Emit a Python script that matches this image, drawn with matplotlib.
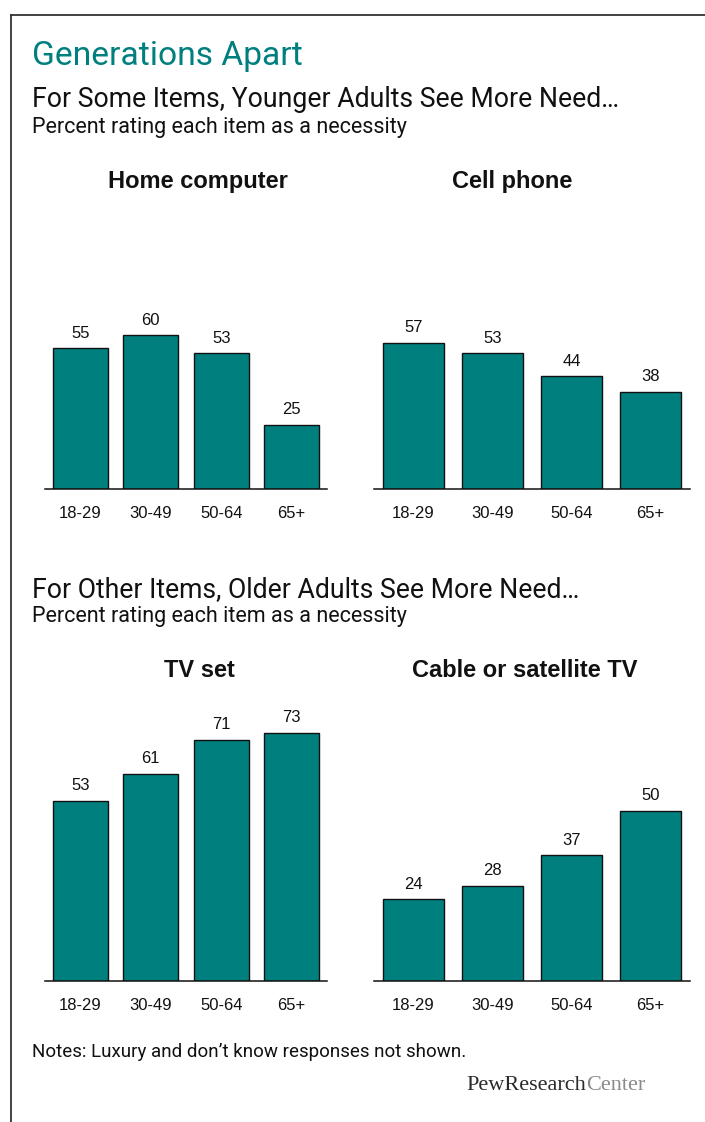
import matplotlib
matplotlib.use("Agg")
import matplotlib.pyplot as plt
from matplotlib.lines import Line2D

# ---- data -------------------------------------------------------------
age_groups = ["18-29", "30-49", "50-64", "65+"]

home_computer = [55, 60, 53, 25]
cell_phone = [57, 53, 44, 38]
tv_set = [53, 61, 71, 73]
cable_satellite = [24, 28, 37, 50]

panel_titles = ["Home computer", "Cell phone", "TV set", "Cable or satellite TV"]

title = "Generations Apart"
section1 = "For Some Items, Younger Adults See More Need\u2026"
section2 = "For Other Items, Older Adults See More Need\u2026"
subhead = "Percent rating each item as a necessity"
note = "Notes: Luxury and don\u2019t know responses not shown."

# ---- styling ----------------------------------------------------------
W, H = 705, 1122
TEAL = "#007F7F"
TEXT_FONT = ["Roboto", "DejaVu Sans"]
NUM_FONT = ["Liberation Sans", "DejaVu Sans"]

fig = plt.figure(figsize=(W / 100, H / 100), dpi=100)
fig.patch.set_facecolor("white")


def fx(x):
    return x / W


def fy(y):
    return 1 - y / H


def add_panel(left, right, top, bottom, values, heading, heading_x, heading_y):
    ax = fig.add_axes([fx(left), fy(bottom), fx(right) - fx(left), fy(top) - fy(bottom)])
    x = list(range(len(age_groups)))
    bars = ax.bar(x, values, width=0.78, color=TEAL, edgecolor="#111111", linewidth=1.0)
    for rect, v in zip(bars, values):
        ax.annotate(f"{v}", (rect.get_x() + rect.get_width() / 2, v),
                    xytext=(0, 5.5), textcoords="offset points",
                    ha="center", va="bottom", fontsize=12, family=NUM_FONT, color="#111111")
    ax.set_xlim(-0.5, len(age_groups) - 0.5)
    ax.set_ylim(0, 100)
    ax.set_xticks(x)
    ax.set_xticklabels(age_groups, family=NUM_FONT, fontsize=12, color="#111111")
    ax.tick_params(axis="x", length=0, pad=12)
    ax.set_yticks([])
    for side in ("left", "right", "top"):
        ax.spines[side].set_visible(False)
    ax.spines["bottom"].set_color("#111111")
    ax.spines["bottom"].set_linewidth(1.1)
    ax.patch.set_alpha(0)
    fig.text(fx(heading_x), fy(heading_y), heading, ha="center", va="baseline",
             fontsize=17, fontweight="bold", family=NUM_FONT, color="#111111")
    return ax


# frame lines along the top and left edge
fig.add_artist(Line2D([fx(11), fx(W)], [fy(15), fy(15)], color="#333333", linewidth=1.3,
                      transform=fig.transFigure))
fig.add_artist(Line2D([fx(11), fx(11)], [fy(15), fy(H)], color="#333333", linewidth=1.3,
                      transform=fig.transFigure))

# headings
fig.text(fx(32), fy(65), title, fontsize=24.2, color=TEAL, family=TEXT_FONT, va="baseline")
fig.text(fx(32), fy(107), section1, fontsize=19.2, color="#111111", family=TEXT_FONT, va="baseline")
fig.text(fx(32), fy(133), subhead, fontsize=15.5, color="#111111", family=TEXT_FONT, va="baseline")
fig.text(fx(32), fy(597), section2, fontsize=19.2, color="#111111", family=TEXT_FONT, va="baseline")
fig.text(fx(32), fy(622), subhead, fontsize=15.5, color="#111111", family=TEXT_FONT, va="baseline")

# four bar panels
add_panel(45, 327, 233, 489, home_computer, panel_titles[0], 198, 188)
add_panel(374, 690, 233, 489, cell_phone, panel_titles[1], 512, 188)
add_panel(45, 327, 641, 981, tv_set, panel_titles[2], 199, 677)
add_panel(374, 690, 641, 981, cable_satellite, panel_titles[3], 525, 677)

# footnote and source mark
fig.text(fx(32), fy(1057), note, fontsize=13.5, color="#111111", family=TEXT_FONT, va="baseline")
src = fig.text(fx(466), fy(1090), "PewResearch", fontsize=16, color="#2a2a2a",
               family=["Liberation Serif", "DejaVu Serif"], va="baseline")
fig.canvas.draw()
bb = src.get_window_extent()
fig.text(bb.x1 / W, fy(1090), "Center", fontsize=16, color="#8a8a8a",
         family=["Liberation Serif", "DejaVu Serif"], va="baseline")

fig.savefig("out.png", dpi=100)
